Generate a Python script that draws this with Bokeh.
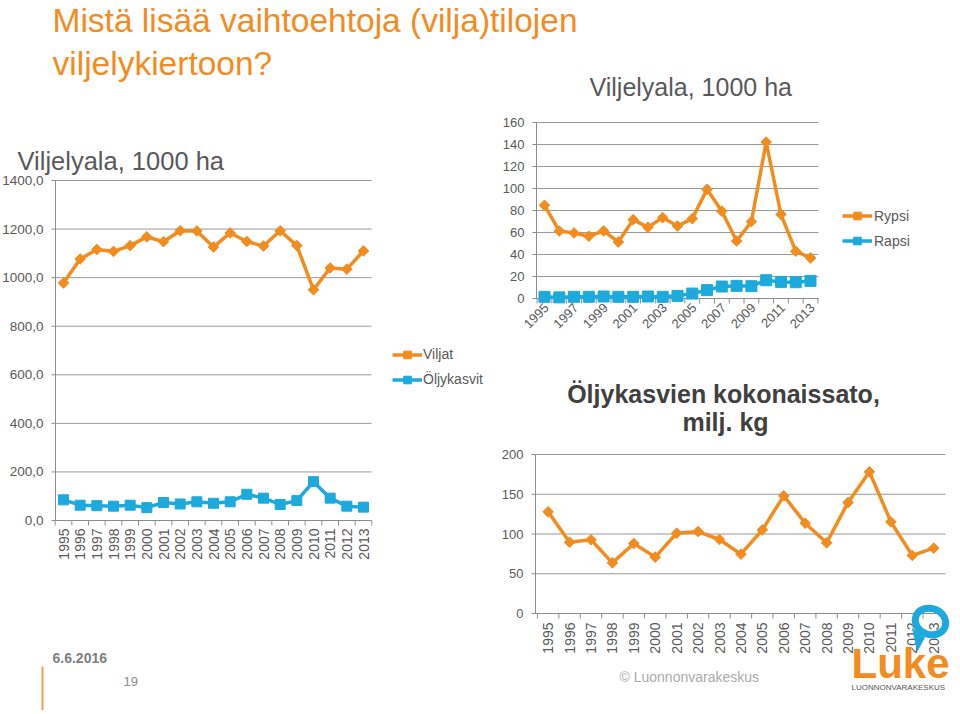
import math
from bokeh.plotting import figure
from bokeh.models import Range1d, Legend, LegendItem
from bokeh.core.properties import value
from bokeh.embed import file_html
from bokeh.resources import INLINE

# ---------------- data ----------------
years = list(range(1995, 2014))
viljat = [978, 1077, 1116, 1108, 1132, 1168, 1148, 1193, 1192, 1126,
          1184, 1149, 1130, 1193, 1132, 950, 1040, 1035, 1110]
oljykasvit = [85, 63, 61, 59, 63, 53, 74, 68, 77, 71,
              77, 108, 92, 66, 82, 160, 92, 59, 55]
rypsi = [84.7, 61.4, 59.6, 56.6, 61.4, 51.4, 71.7, 64.7, 73.5, 65.9,
         72.6, 99.2, 79.3, 52.3, 69.9, 142.2, 76.5, 43.0, 36.9]
rapsi = [1.5, 1.0, 1.5, 1.5, 1.8, 1.5, 1.5, 1.8, 1.5, 2.4,
         4.5, 7.6, 10.9, 11.5, 11.2, 16.6, 15.1, 14.8, 16.0]
sato = [127.9, 89.7, 92.7, 63.7, 88.0, 70.9, 101.0, 103.1, 93.1, 74.6,
        105.2, 148.0, 113.6, 88.9, 139.6, 178.2, 115.3, 73.0, 82.2]

ticks1 = [0, 200, 400, 600, 800, 1000, 1200, 1400]
tick_labels1 = ["0,0", "200,0", "400,0", "600,0", "800,0", "1000,0", "1200,0", "1400,0"]
ticks2 = [0, 20, 40, 60, 80, 100, 120, 140, 160]
tick_labels2 = [str(t) for t in ticks2]
ticks3 = [0, 50, 100, 150, 200]
tick_labels3 = [str(t) for t in ticks3]
year_labels = [str(y) for y in years]
years2 = years[::2]
year_labels2 = [str(y) for y in years2]

# ---------------- style ----------------
ORANGE = "#F28C1E"
BLUE = "#1DA9DC"
TXT = "#595959"
GRID = "#999999"
AXIS = "#8c8c8c"
FONT = value("Liberation Sans")
W, H = 956, 710

p = figure(width=W, height=H, x_range=Range1d(0, W), y_range=Range1d(H, 0),
           output_backend="svg", toolbar_location=None, min_border=0,
           x_axis_location=None, y_axis_location=None)
p.outline_line_color = None
p.grid.visible = False
p.background_fill_color = "white"
p.border_fill_color = "white"


class Chart:
    """A chart drawn on its own pair of ranges; frame given in page pixels."""
    def __init__(self, name, fl, ft, fw, fh, xr, yr):
        self.xa, self.xb = xr
        self.ya, self.yb = yr
        self.xn, self.yn = name + "x", name + "y"
        kx = (self.xb - self.xa) / fw
        ky = (self.yb - self.ya) / fh
        p.extra_x_ranges[self.xn] = Range1d(self.xa - fl * kx, self.xa + (W - fl) * kx)
        p.extra_y_ranges[self.yn] = Range1d(self.ya - (H - ft - fh) * ky, self.ya + (ft + fh) * ky)
        self.kx, self.ky = kx, ky
        self.kw = dict(x_range_name=self.xn, y_range_name=self.yn)

    def axes(self, yticks, ylabels, ysize, xticks, xlabels, xsize, xangle, xoff, yoff):
        xa, xb, ya, yb, kw = self.xa, self.xb, self.ya, self.yb, self.kw
        n = len(yticks)
        p.segment(x0=[xa] * n, y0=yticks, x1=[xb] * n, y1=yticks,
                  line_color=GRID, line_width=1, **kw)
        p.segment(x0=[xa - 4 * self.kx] * n, y0=yticks, x1=[xa] * n, y1=yticks,
                  line_color=AXIS, line_width=1, **kw)
        p.segment(x0=[xa], y0=[ya], x1=[xa], y1=[yb], line_color=AXIS, line_width=1, **kw)
        p.segment(x0=[xa], y0=[ya], x1=[xb], y1=[ya], line_color=AXIS, line_width=1, **kw)
        half = [y + 0.5 for y in range(1994, 2014)]
        m = len(half)
        p.segment(x0=half, y0=[ya] * m, x1=half, y1=[ya - 5 * self.ky] * m,
                  line_color=AXIS, line_width=1, **kw)
        p.text(x=[xa] * n, y=yticks, text=ylabels, x_offset=-12, text_align="right",
               text_baseline="middle", text_font=FONT, text_font_size=ysize,
               text_color=TXT, **kw)
        k = len(xticks)
        p.text(x=xticks, y=[ya] * k, text=xlabels, angle=xangle, x_offset=xoff, y_offset=yoff,
               text_align="right", text_baseline="middle", text_font=FONT,
               text_font_size=xsize, text_color=TXT, **kw)


def label(px, baseline, text, size, color, style="normal", align="left"):
    # place by the text's baseline: centre of the capitals sits 0.36 em above it
    p.text(x=[px], y=[baseline - 0.36 * size], text=[text], text_font=FONT,
           text_font_size=f"{size}px", text_color=color, text_font_style=style,
           text_align=align, text_baseline="middle")


def legend(items, vx, vy, standoff):
    lg = Legend(items=items, location=(vx, vy), padding=0, margin=0, spacing=6,
                glyph_width=30, glyph_height=19, label_height=19, label_standoff=standoff,
                label_text_font="Liberation Sans", label_text_font_size="14px",
                label_text_color=TXT, border_line_color=None, background_fill_alpha=0)
    p.add_layout(lg)


# ---------------- titles ----------------
label(52, 32, "Mistä lisää vaihtoehtoja (vilja)tilojen", 33.5, ORANGE)
label(52, 75, "viljelykiertoon?", 33.5, ORANGE)

# ---------------- chart 1 ----------------
c1 = Chart("c1", 55, 180, 316, 340, (1994.52, 2013.48), (0, 1400))
c1.axes(ticks1, tick_labels1, "13.5px", years, year_labels, "14px", math.pi / 2, 0, 8)
l1 = p.line(years, viljat, line_color=ORANGE, line_width=3.5, line_join="round", **c1.kw)
s1 = p.scatter(years, viljat, marker="square", angle=math.pi / 4, size=7.5,
               fill_color=ORANGE, line_color=ORANGE, **c1.kw)
l2 = p.line(years, oljykasvit, line_color=BLUE, line_width=3.5, line_join="round", **c1.kw)
s2 = p.scatter(years, oljykasvit, marker="square", size=10,
               fill_color=BLUE, line_color=BLUE, **c1.kw)
legend([LegendItem(label="Viljat", renderers=[l1, s1]),
        LegendItem(label="Öljykasvit", renderers=[l2, s2])], 392, H - 344.5 - 44, 1)
label(17, 170, "Viljelyala, 1000 ha", 25.5, TXT)

# ---------------- chart 2 ----------------
c2 = Chart("c2", 536, 122, 282, 176, (1994.46, 2013.54), (0, 160))
c2.axes(ticks2, tick_labels2, "13px", years2, year_labels2, "13px", math.pi / 4, 2, 7)
l3 = p.line(years, rypsi, line_color=ORANGE, line_width=3.5, line_join="round", **c2.kw)
s3 = p.scatter(years, rypsi, marker="square", angle=math.pi / 4, size=7.5,
               fill_color=ORANGE, line_color=ORANGE, **c2.kw)
l4 = p.line(years, rapsi, line_color=BLUE, line_width=3.5, line_join="round", **c2.kw)
s4 = p.scatter(years, rapsi, marker="square", size=11,
               fill_color=BLUE, line_color=BLUE, **c2.kw)
legend([LegendItem(label="Rypsi", renderers=[l3, s3]),
        LegendItem(label="Rapsi", renderers=[l4, s4])], 842, H - 206 - 44, 2)
label(589, 95, "Viljelyala, 1000 ha", 25, TXT)

# ---------------- chart 3 ----------------
c3 = Chart("c3", 535, 454, 410, 159, (1994.41, 2013.55), (0, 200))
c3.axes(ticks3, tick_labels3, "13px", years, year_labels, "14px", math.pi / 2, 0, 9)
p.line(years, sato, line_color=ORANGE, line_width=3.5, line_join="round", **c3.kw)
p.scatter(years, sato, marker="square", angle=math.pi / 4, size=7.5,
          fill_color=ORANGE, line_color=ORANGE, **c3.kw)
label(723, 402, "Öljykasvien kokonaissato,", 25, "#404040", style="bold", align="center")
label(725, 430, "milj. kg", 25, "#404040", style="bold", align="center")

# ---------------- footer ----------------
label(52, 663, "6.6.2016", 14, "#7f7f7f", style="bold")
label(123, 686, "19", 13, "#8c8c8c")
p.segment(x0=[42], y0=[666], x1=[42], y1=[H], line_color="#E5A54B", line_width=2)
label(619, 682, "© Luonnonvarakeskus", 14, "#ababab")

# Luke logo
p.ellipse(x=[930], y=[621], width=[31], height=[26], angle=-0.35,
          fill_color=None, line_color=BLUE, line_width=7)
p.patch(x=[912, 924, 917], y=[628, 637, 650], fill_color=BLUE, line_color=BLUE)
label(851, 678, "Luke", 42, ORANGE, style="bold")
label(851, 690, "LUONNONVARAKESKUS", 8, "#555555")

with open("out.html", "w") as f:
    f.write(file_html(p, INLINE))
